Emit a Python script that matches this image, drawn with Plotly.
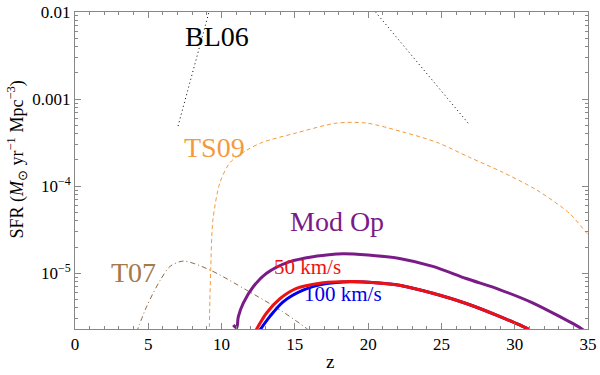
import plotly.graph_objects as go

# ---- data ----
bl06_z = [7.03, 8.0, 9.0, 10.0, 12.0, 15.0, 18.0, 20.0, 20.5, 22.0, 24.0, 26.0, 26.84]
bl06_sfr = [4.9e-4, 1.95e-3, 8.1e-3, 3.4e-2, 0.15, 0.3, 0.1, 1.26e-2, 1.0e-2, 5.0e-3, 1.95e-3, 7.8e-4, 5.25e-4]

ts09_z = [9.16, 9.2, 9.26, 9.41, 9.89, 10.57, 11.73, 12.82, 15.13, 17.86, 19.9, 22.35, 24.66, 26.9, 29.15, 31.47, 33.72, 34.87, 35.0]
ts09_sfr = [2.0e-6, 4.9e-6, 1.1e-5, 4.1e-5, 1.1e-4, 1.86e-4, 2.6e-4, 3.2e-4, 4.1e-4, 5.3e-4, 5.3e-4, 4.2e-4, 3.2e-4, 2.15e-4, 1.45e-4, 9.1e-5, 4.9e-5, 2.95e-5, 2.8e-5]

t07_z = [4.2, 4.9, 5.81, 6.49, 7.39, 9.16, 11.71, 13.98, 15.79, 16.1]
t07_sfr = [2.1e-6, 4.2e-6, 8.3e-6, 1.2e-5, 1.38e-5, 1.1e-5, 6.4e-6, 3.8e-6, 2.33e-6, 2.1e-6]

modop_z = [10.8, 11.03, 11.14, 11.48, 12.16, 13.07, 14.66, 16.24, 17.84, 18.3, 20.0, 22.14, 24.41, 26.69, 28.96, 31.22, 34.51, 34.8]
modop_sfr = [2.55e-6, 2.36e-6, 3.16e-6, 4.53e-6, 7.0e-6, 1.0e-5, 1.36e-5, 1.55e-5, 1.66e-5, 1.68e-5, 1.62e-5, 1.48e-5, 1.2e-5, 8.7e-6, 6.5e-6, 4.57e-6, 2.34e-6, 2.15e-6]

v50_z = [12.3, 13.07, 13.98, 15.11, 16.7, 18.52, 18.9, 20.5, 22.14, 24.41, 26.69, 28.96, 30.88, 31.0]
v50_sfr = [2.15e-6, 3.5e-6, 5.1e-6, 6.7e-6, 7.7e-6, 8.0e-6, 8.05e-6, 7.8e-6, 7.3e-6, 5.9e-6, 4.5e-6, 3.2e-6, 2.3e-6, 2.2e-6]

v100_z = [12.55, 13.3, 14.2, 15.56, 17.15, 18.74, 20.5, 22.14, 24.41, 26.69, 28.96, 30.88, 31.0]
v100_sfr = [2.15e-6, 3.2e-6, 4.7e-6, 6.4e-6, 7.6e-6, 8.0e-6, 7.8e-6, 7.3e-6, 5.9e-6, 4.5e-6, 3.2e-6, 2.3e-6, 2.2e-6]

x_ticks = [0, 5, 10, 15, 20, 25, 30, 35]
y_ticks = [1e-2, 1e-3, 1e-4, 1e-5]
y_ticktext = ["0.01", "0.001", "10<sup>\u22124</sup>", "10<sup>\u22125</sup>"]

FONT = "Liberation Serif"
ORANGE = "#F39A3C"
BROWN = "#A57A4A"
PURPLE = "#7A1B88"

fig = go.Figure()
fig.add_trace(go.Scatter(x=bl06_z, y=bl06_sfr, mode="lines",
                         line=dict(color="black", width=1, dash="1px,3px")))
fig.add_trace(go.Scatter(x=ts09_z, y=ts09_sfr, mode="lines",
                         line=dict(color=ORANGE, width=1, dash="4px,3px",
                                   shape="spline", smoothing=0.8)))
fig.add_trace(go.Scatter(x=t07_z, y=t07_sfr, mode="lines",
                         line=dict(color="#8C6A4A", width=1, dash="5px,3px,1px,3px",
                                   shape="spline", smoothing=0.8)))
fig.add_trace(go.Scatter(x=v100_z, y=v100_sfr, mode="lines",
                         line=dict(color="#0000EE", width=3, shape="spline", smoothing=0.8)))
fig.add_trace(go.Scatter(x=v50_z, y=v50_sfr, mode="lines",
                         line=dict(color="#EE1111", width=3, shape="spline", smoothing=0.8)))
fig.add_trace(go.Scatter(x=modop_z, y=modop_sfr, mode="lines",
                         line=dict(color=PURPLE, width=3, shape="spline", smoothing=0.8)))

def label(text, x, y, color, size):
    fig.add_annotation(x=x, y=y, xref="x", yref="y", text=text, showarrow=False,
                       font=dict(family=FONT, size=size, color=color),
                       xanchor="center", yanchor="middle")

label("BL06", 9.72, -2.28, "black", 28)
label("TS09", 9.55, -3.56, ORANGE, 28)
label("Mod Op", 17.89, -4.41, PURPLE, 28)
label("T07", 3.97, -4.99, BROWN, 28)
label("50 km/s", 15.88, -4.93, "#EE1111", 21)
label("100 km/s", 18.26, -5.24, "#0000EE", 21)

fig.add_annotation(xref="paper", yref="paper", x=-0.114, y=0.533,
                   xanchor="center", yanchor="middle",
                   text="SFR (<i>M</i><sub>\u2299</sub> yr<sup>\u22121</sup> Mpc<sup>\u22123</sup>)",
                   textangle=-90, showarrow=False,
                   font=dict(family=FONT, size=18, color="black"))
fig.add_annotation(xref="paper", yref="paper", x=0.497, y=-0.143,
                   xanchor="center", yanchor="bottom",
                   text="z", showarrow=False,
                   font=dict(family=FONT, size=19, color="black"))

minor_y = [m * 10.0 ** e for e in range(-6, -2) for m in range(2, 10)]
minor_x = [v for v in range(0, 36) if v % 5 != 0]

fig.update_xaxes(range=[0, 35], tickvals=x_ticks, ticks="inside", ticklen=6,
                 tickcolor="#888", showline=True, linecolor="#888", mirror="allticks",
                 showgrid=False, zeroline=False, automargin=False,
                 tickfont=dict(family=FONT, size=17, color="black"),
                 minor=dict(tickvals=minor_x, ticks="inside", ticklen=3, tickcolor="#888"))
fig.update_yaxes(type="log", range=[-5.64, -2], tickvals=y_ticks, ticktext=y_ticktext,
                 ticks="inside", ticklen=6, tickcolor="#888",
                 showline=True, linecolor="#888", mirror="allticks",
                 showgrid=False, zeroline=False, automargin=False,
                 tickfont=dict(family=FONT, size=17, color="black"),
                 minor=dict(tickvals=minor_y, ticks="inside", ticklen=3, tickcolor="#888"))

fig.update_layout(width=600, height=375, showlegend=False,
                  plot_bgcolor="white", paper_bgcolor="white",
                  margin=dict(l=75, r=12, t=12, b=46),
                  font=dict(family=FONT, color="black"))

fig.write_html("out.html", config={"displayModeBar": False},
               post_script="document.body.style.margin='0';document.body.style.overflow='hidden';")
